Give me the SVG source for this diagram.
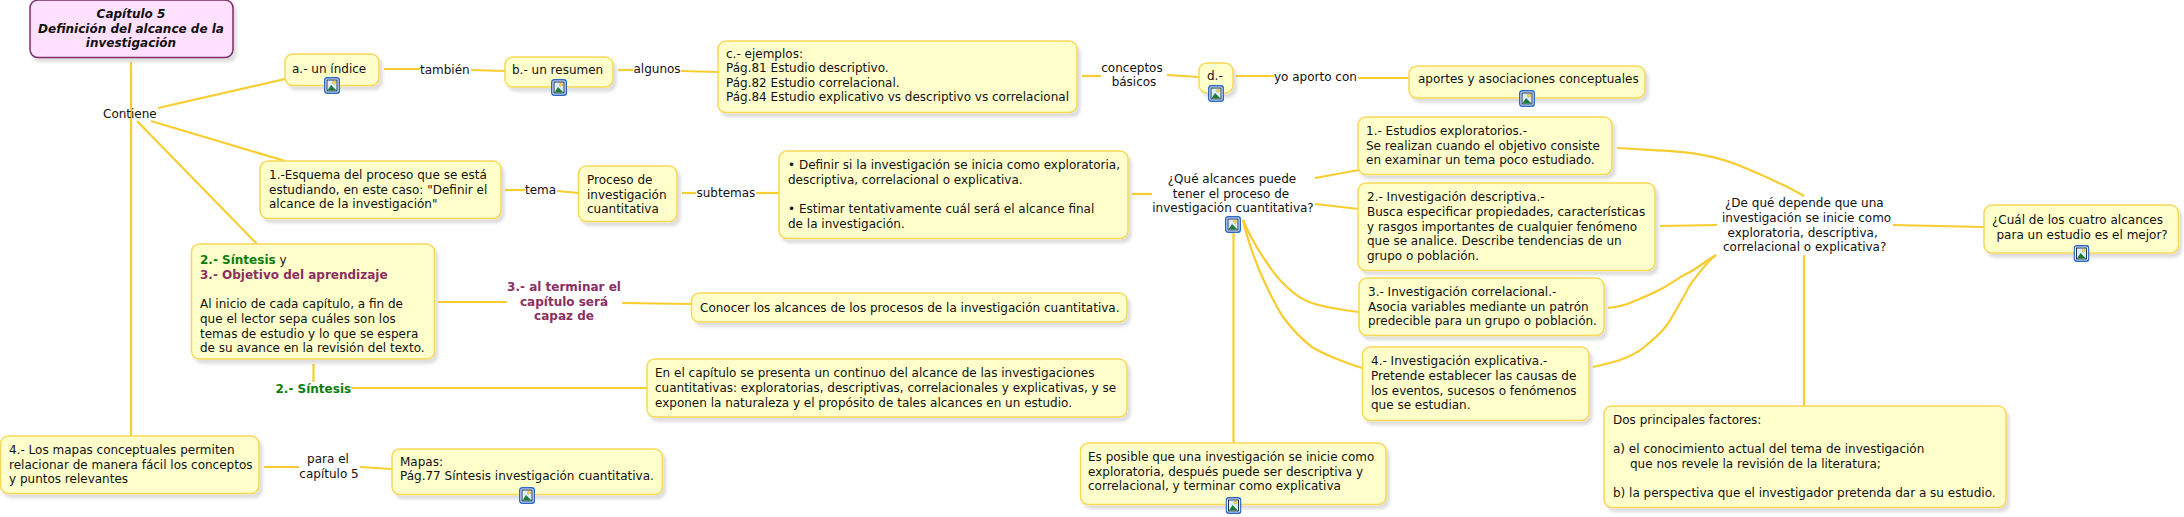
<svg xmlns="http://www.w3.org/2000/svg" width="2184" height="517" viewBox="0 0 2184 517">
<style>
text{font-family:"DejaVu Sans","Verdana",sans-serif;font-size:12px;fill:#111}
.n{fill:#ffffcc;stroke:#f8d858;stroke-width:1.5}
.r{fill:#ffe0ff;stroke:#7d2d66;stroke-width:1.5}
.c path{fill:none;stroke:#f8cd30;stroke-width:2.2;stroke-linecap:butt}
.rt{font-weight:bold;font-style:italic;text-anchor:middle}
.m{text-anchor:middle}
.g{font-weight:bold;fill:#0b7d0b}
.p{font-weight:bold;fill:#8b2f62}
</style>
<defs>
<filter id="s" x="-10%" y="-15%" width="125%" height="140%"><feDropShadow dx="3" dy="4" stdDeviation="1.500" flood-color="#000" flood-opacity="0.13"/></filter>
<symbol id="ic" width="16" height="17" viewBox="0 0 16 17">
<rect x="0.7" y="0.7" width="14.6" height="15.600" rx="2.500" fill="#e4efff" stroke="#2a68c8" stroke-width="1.400"/>
<rect x="3" y="3" width="10" height="11" fill="#dcedfb" stroke="#16223f" stroke-width="0.900"/>
<circle cx="10" cy="5.600" r="1.600" fill="#f4e04a" stroke="#b09020" stroke-width="0.400"/>
<path d="M3.500 13.500L7 8L9.500 10.500L12.500 13.500Z" fill="#1f7a3a"/>
</symbol>
</defs>
<g class="c" id="connectors">
<path d="M131 62V436"/>
<path d="M158 108L285 79"/>
<path d="M151 121L285 161"/>
<path d="M137 121L257 244"/>
<path d="M384 69L420 69"/>
<path d="M471 70L505 71"/>
<path d="M618 70L633 70"/>
<path d="M681 71L718 72"/>
<path d="M1082 76L1101 76"/>
<path d="M1167 75L1199 77"/>
<path d="M1236 76L1274 76"/>
<path d="M1358 78L1409 78"/>
<path d="M505 190L525 190"/>
<path d="M557 191L579 193"/>
<path d="M682 193L696 193"/>
<path d="M756 193L779 193"/>
<path d="M1132 194L1152 194"/>
<path d="M1315 178L1359 170"/>
<path d="M1315 204L1359 209"/>
<path d="M1233.500 233V443"/>
<path d="M1243 220C1250 237 1258 250 1267 263C1273 272 1279 280 1287 287C1294 294 1303 300 1312 303C1327 308 1343 310 1359 312"/>
<path d="M1243 220C1247 238 1253 255 1260 272C1267 288 1274 303 1283 317C1292 329 1301 339 1312 347C1318 351 1325 354 1332 357C1342 361 1352 365 1362 368"/>
<path d="M1617 148C1665 151 1700 150 1738 165C1760 174 1785 185 1804 196"/>
<path d="M1660 226L1717 225"/>
<path d="M1608 308C1616 307 1623 306 1630 303C1642 298 1652 294 1663 288C1672 283 1681 276 1690 272C1699 267 1707 260 1716 255"/>
<path d="M1593 367C1602 365 1611 363 1620 360C1628 357 1636 354 1643 348C1652 341 1660 334 1667 325C1675 313 1683 298 1690 285C1698 274 1707 262 1716 255"/>
<path d="M1893 225L1984 227"/>
<path d="M1804 255V406"/>
<path d="M438 302L507 302"/>
<path d="M622 303L692 304"/>
<path d="M313.500 364V382"/>
<path d="M351 388L647 388"/>
<path d="M264 467L299 467"/>
<path d="M360 467L392 469"/>
</g>
<g id="root"><rect class="r" filter="url(#s)" x="30" y="0" width="203" height="57.500" rx="8"/><text class="rt" x="131" y="18">Capítulo 5</text><text class="rt" x="131" y="32.500">Definición del alcance de la</text><text class="rt" x="131" y="47">investigación</text></g>
<g id="a"><rect class="n" filter="url(#s)" x="285" y="54" width="94" height="31.500" rx="8"/><text x="292" y="73">a.- un índice</text><use href="#ic" x="324" y="77"/></g>
<g id="b"><rect class="n" filter="url(#s)" x="505" y="57" width="108" height="30" rx="8"/><text x="512" y="74">b.- un resumen</text><use href="#ic" x="551" y="79"/></g>
<g id="c"><rect class="n" filter="url(#s)" x="718" y="41" width="359" height="71.500" rx="8"/><text x="726" y="57.500">c.- ejemplos:</text><text x="726" y="72">Pág.81 Estudio descriptivo.</text><text x="726" y="86.500">Pág.82 Estudio correlacional.</text><text x="726" y="101">Pág.84 Estudio explicativo vs descriptivo vs correlacional</text></g>
<g id="d"><rect class="n" filter="url(#s)" x="1199" y="63" width="34" height="30" rx="8"/><text x="1207" y="80">d.-</text><use href="#ic" x="1208" y="85"/></g>
<g id="aportes"><rect class="n" filter="url(#s)" x="1409" y="66" width="236" height="32" rx="8"/><text x="1418" y="83">aportes y asociaciones conceptuales</text><use href="#ic" x="1519" y="90"/></g>
<g id="esquema"><rect class="n" filter="url(#s)" x="260" y="161" width="241" height="57.500" rx="8"/><text x="269" y="179">1.-Esquema del proceso que se está</text><text x="269" y="193.500">estudiando, en este caso: "Definir el</text><text x="269" y="208">alcance de la investigación"</text></g>
<g id="proceso"><rect class="n" filter="url(#s)" x="578.500" y="166" width="98.500" height="55.500" rx="8"/><text x="587" y="184">Proceso de</text><text x="587" y="199">investigación</text><text x="587" y="213">cuantitativa</text></g>
<g id="bullets"><rect class="n" filter="url(#s)" x="779" y="151" width="349" height="87.500" rx="8"/><text x="788" y="169">• Definir si la investigación se inicia como exploratoria,</text><text x="788" y="184">descriptiva, correlacional o explicativa.</text><text x="788" y="213">• Estimar tentativamente cuál será el alcance final</text><text x="788" y="228">de la investigación.</text></g>
<g id="que-alcances"><text class="m" x="1232" y="183">¿Qué alcances puede</text><text class="m" x="1231" y="197.500">tener el proceso de</text><text class="m" x="1233" y="212">investigación cuantitativa?</text><use href="#ic" x="1225" y="216"/></g>
<g id="explor"><rect class="n" filter="url(#s)" x="1358" y="117" width="254" height="57.500" rx="8"/><text x="1366" y="135">1.- Estudios exploratorios.-</text><text x="1366" y="150">Se realizan cuando el objetivo consiste</text><text x="1366" y="164">en examinar un tema poco estudiado.</text></g>
<g id="descr"><rect class="n" filter="url(#s)" x="1358" y="183" width="297" height="87.500" rx="8"/><text x="1367" y="201">2.- Investigación descriptiva.-</text><text x="1367" y="216">Busca especificar propiedades, características</text><text x="1367" y="230.500">y rasgos importantes de cualquier fenómeno</text><text x="1367" y="245">que se analice. Describe tendencias de un</text><text x="1367" y="260">grupo o población.</text></g>
<g id="correl"><rect class="n" filter="url(#s)" x="1359" y="278" width="245" height="57.500" rx="8"/><text x="1368" y="296">3.- Investigación correlacional.-</text><text x="1368" y="311">Asocia variables mediante un patrón</text><text x="1368" y="325">predecible para un grupo o población.</text></g>
<g id="expl"><rect class="n" filter="url(#s)" x="1362.500" y="347" width="226.500" height="73.500" rx="8"/><text x="1371" y="365">4.- Investigación explicativa.-</text><text x="1371" y="380">Pretende establecer las causas de</text><text x="1371" y="394.500">los eventos, sucesos o fenómenos</text><text x="1371" y="409">que se estudian.</text></g>
<g id="depende"><text x="1725" y="207">¿De qué depende que una</text><text x="1722" y="222">investigación se inicie como</text><text x="1727.500" y="236.500">exploratoria, descriptiva,</text><text x="1723" y="251">correlacional o explicativa?</text></g>
<g id="cual"><rect class="n" filter="url(#s)" x="1984" y="205" width="194.500" height="48" rx="8"/><text x="1992" y="224">¿Cuál de los cuatro alcances</text><text x="1996.500" y="238.500">para un estudio es el mejor?</text><use href="#ic" x="2073.500" y="245"/></g>
<g id="dos"><rect class="n" filter="url(#s)" x="1604" y="406" width="402" height="101.500" rx="8"/><text x="1613" y="424">Dos principales factores:</text><text x="1613" y="453">a) el conocimiento actual del tema de investigación</text><text x="1630" y="468">que nos revele la revisión de la literatura;</text><text x="1613" y="497">b) la perspectiva que el investigador pretenda dar a su estudio.</text></g>
<g id="posible"><rect class="n" filter="url(#s)" x="1080.500" y="443" width="305.500" height="61.500" rx="8"/><text x="1088" y="461">Es posible que una investigación se inicie como</text><text x="1088" y="476">exploratoria, después puede ser descriptiva y</text><text x="1088" y="490">correlacional, y terminar como explicativa</text><use href="#ic" x="1225.500" y="497"/></g>
<g id="sintesis"><rect class="n" filter="url(#s)" x="191.500" y="244" width="243" height="115" rx="8"/><text x="200" y="264"><tspan class="g">2.- Síntesis</tspan> y</text><text class="p" x="200" y="278.500">3.- Objetivo del aprendizaje</text><text x="200" y="308">Al inicio de cada capítulo, a fin de</text><text x="200" y="322.500">que el lector sepa cuáles son los</text><text x="200" y="337.500">temas de estudio y lo que se espera</text><text x="200" y="352">de su avance en la revisión del texto.</text></g>
<g id="conocer"><rect class="n" filter="url(#s)" x="691.500" y="293" width="435.500" height="29" rx="8"/><text x="700" y="311.500">Conocer los alcances de los procesos de la investigación cuantitativa.</text></g>
<g id="capitulo"><rect class="n" filter="url(#s)" x="647" y="359" width="480" height="58" rx="8"/><text x="655" y="377">En el capítulo se presenta un continuo del alcance de las investigaciones</text><text x="655" y="392">cuantitativas: exploratorias, descriptivas, correlacionales y explicativas, y se</text><text x="655" y="406.500">exponen la naturaleza y el propósito de tales alcances en un estudio.</text></g>
<g id="mapas4"><rect class="n" filter="url(#s)" x="0.500" y="436" width="258.500" height="57.500" rx="8"/><text x="9" y="454">4.- Los mapas conceptuales permiten</text><text x="9" y="469">relacionar de manera fácil los conceptos</text><text x="9" y="483">y puntos relevantes</text></g>
<g id="mapas"><rect class="n" filter="url(#s)" x="392" y="449" width="270.500" height="45.500" rx="8"/><text x="400" y="465.500">Mapas:</text><text x="400" y="480">Pág.77 Síntesis investigación cuantitativa.</text><use href="#ic" x="519" y="487"/></g>
<g id="labels">
<g id="l-contiene"><text x="103" y="117.500">Contiene</text></g>
<g id="l-tambien"><text x="420" y="73.500">también</text></g>
<g id="l-algunos"><text x="633.500" y="72.500">algunos</text></g>
<g id="l-tema"><text x="525" y="194">tema</text></g>
<g id="l-subtemas"><text x="696.500" y="196.500">subtemas</text></g>
<g id="l-conceptos"><text class="m" x="1132" y="71.500">conceptos</text><text class="m" x="1134" y="86">básicos</text></g>
<g id="l-yo"><text x="1274" y="80.500">yo aporto con</text></g>
<g id="l-3"><text class="m p" x="564" y="291">3.- al terminar el</text><text class="m p" x="564" y="305.500">capítulo será</text><text class="m p" x="564" y="320">capaz de</text></g>
<g id="l-2"><text class="g" x="275.500" y="392.500">2.- Síntesis</text></g>
<g id="l-para"><text class="m" x="328" y="463">para el</text><text class="m" x="329" y="477.500">capítulo 5</text></g>
</g>
</svg>
